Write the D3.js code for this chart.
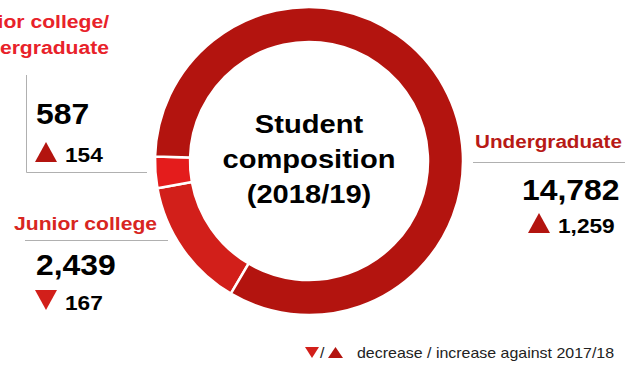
<!DOCTYPE html>
<html>
<head>
<meta charset="utf-8">
<script src="https://cdn.jsdelivr.net/npm/d3@7"></script>
<style>
  body { margin: 0; background: #fff; }
  text { font-family: "Liberation Sans", Arial, sans-serif; }
</style>
</head>
<body>
<div id="canvas"></div>
<script>
// data
const categories = ["Junior college", "Junior college/undergraduate", "Undergraduate"];
const students = [2439, 587, 14782];
const changes = [-167, 154, 1259];
const colors = ["#d21f1a", "#e41c1c", "#b3140f"];
const labelColors = ["#d8261f", "#e8222a", "#b81a16"];
const centerTitle = ["Student", "composition", "(2018/19)"];
const note = "decrease / increase against 2017/18";

const width = 625;
const height = 366;
const cx = 309, cy = 161;
const outerR = 154, innerR = 119;

const svg = d3.select("#canvas").append("svg")
  .attr("width", width)
  .attr("height", height);

const data = categories.map((c, i) => ({ name: c, value: students[i], change: changes[i], color: colors[i] }));

const pie = d3.pie()
  .sort(null)
  .value((d) => d.value)
  .startAngle(210.5 * Math.PI / 180)
  .endAngle(210.5 * Math.PI / 180 + 2 * Math.PI);

const arc = d3.arc().innerRadius(innerR).outerRadius(outerR);

svg.append("g")
  .attr("transform", `translate(${cx},${cy})`)
  .selectAll("path")
  .data(pie(data))
  .enter()
  .append("path")
  .attr("d", arc)
  .style("fill", (d) => d.data.color)
  .style("stroke", "#fff")
  .style("stroke-width", 2.5);

// the source text is a bit wider than Arial, so stretch it horizontally
function txt(x, y, s, opt) {
  return svg.append("text")
    .attr("transform", `translate(${x},${y}) scale(${opt.sx || 1.1},1)`)
    .attr("text-anchor", opt.anchor || "start")
    .style("font-size", opt.size + "px")
    .style("font-weight", opt.bold === false ? "normal" : "bold")
    .style("fill", opt.color || "#000")
    .text(s);
}

centerTitle.forEach((t, i) => {
  txt(cx, 133 + i * 35, t, { size: 26, sx: 1.12, anchor: "middle" });
});

const fmt = d3.format(",");

function tri(x, y, w, h, up, color) {
  const p = up
    ? `M${x},${y + h}L${x + w / 2},${y}L${x + w},${y + h}Z`
    : `M${x},${y}L${x + w},${y}L${x + w / 2},${y + h}Z`;
  svg.append("path").attr("d", p).style("fill", color);
}

function block(d, o) {
  txt(o.vx, o.vy, fmt(d.value), { size: 29, sx: 1.1 });
  const up = d.change > 0;
  tri(o.tx, o.ty, 22, 20, up, up ? "#b3140f" : "#d21f1a");
  txt(o.tx + 30, o.ty + 20, fmt(Math.abs(d.change)), { size: 21, sx: 1.08 });
}

const labelSize = 19.2;

// Junior college/undergraduate (top left)
txt(109, 28, "Junior college/", { size: labelSize, anchor: "end", color: labelColors[1] });
txt(109, 54, "undergraduate", { size: labelSize, anchor: "end", color: labelColors[1] });
svg.append("path")
  .attr("d", "M26.5,75V172.5H147")
  .style("fill", "none").style("stroke", "#b0b0b0").style("stroke-width", 1);
block(data[1], { vx: 36, vy: 124, tx: 35, ty: 142 });

// Junior college
txt(14, 230, "Junior college", { size: labelSize, color: labelColors[0] });
svg.append("line").attr("x1", 25).attr("x2", 168).attr("y1", 240.5).attr("y2", 240.5)
  .style("stroke", "#b0b0b0");
block(data[0], { vx: 36, vy: 275, tx: 35, ty: 290 });

// Undergraduate
txt(475, 148, "Undergraduate", { size: 18.8, color: labelColors[2] });
svg.append("line").attr("x1", 473).attr("x2", 625).attr("y1", 162.5).attr("y2", 162.5)
  .style("stroke", "#b0b0b0");
block(data[2], { vx: 522, vy: 200, tx: 528, ty: 213 });

// legend
tri(305, 347, 14, 11, false, "#d21f1a");
txt(320, 358, "/", { size: 14, sx: 1.14, bold: false, color: "#222" });
tri(328, 347, 15, 11, true, "#b3140f");
txt(357, 358, note, { size: 14, sx: 1.14, bold: false, color: "#222" });
</script>
</body>
</html>
